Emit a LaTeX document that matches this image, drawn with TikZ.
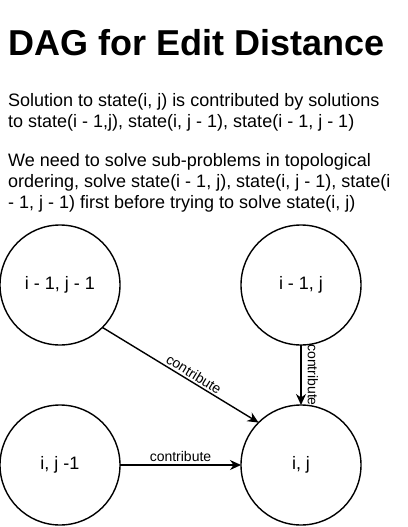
\documentclass[tikz,border=0pt]{standalone}
\usepackage{fontspec}
\setmainfont{Liberation Sans}
\usetikzlibrary{arrows.meta}

\begin{document}
\begin{tikzpicture}[x=1pt,y=-1pt,
 state/.style={draw,circle,line width=1.4pt,minimum size=120pt,inner sep=0pt,outer sep=0pt,
 font=\fontsize{18}{21}\selectfont},
 txt/.style={anchor=base west,inner sep=0pt,font=\fontsize{18}{21}\selectfont},
 lab/.style={font=\fontsize{14}{16}\selectfont,inner sep=2pt},
 arr/.style={->,line width=1.4pt}, >={Stealth[length=11pt,width=10pt]}]
\useasboundingbox (0,0) rectangle (407,527);
\node[txt,font=\bfseries\fontsize{36}{40}\selectfont] (title) at (8,56) {DAG for Edit Distance};
\foreach \y/\t in {106/{Solution to state(i, j) is contributed by solutions},
 127/{to state(i - 1,j), state(i, j - 1), state(i - 1, j - 1)},
 166/{We need to solve sub-problems in topological},
 187/{ordering, solve state(i - 1, j), state(i, j - 1), state(i},
 208/{- 1, j - 1) first before trying to solve state(i, j)}}
 \node[txt] (line\y) at (8,\y) {\t};
\node[state] (d) at (60,285) {i - 1, j - 1};
\node[state] (u) at (301,285) {i - 1, j};
\node[state] (l) at (60,465) {i, j -1};
\node[state] (c) at (301,465) {i, j};
\draw[arr] (d.south east) -- node[lab,sloped,above,pos=.56] (cd) {contribute} (c.north west);
\draw[arr] (u.south) -- node[lab,rotate=-90,anchor=south,inner sep=6pt] (cu) {contribute} (c.north);
\draw[arr] (l.east) -- node[lab,above,inner sep=0pt,yshift=3pt] (cl) {contribute} (c.west);
\end{tikzpicture}
\end{document}
